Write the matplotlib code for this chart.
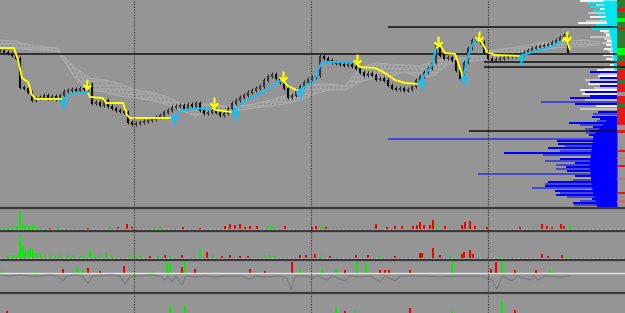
"""Trading terminal screenshot: price + cloud + trend line, volume profile, three sub-panels."""
import numpy as np
import matplotlib
matplotlib.use("Agg")
import matplotlib.pyplot as plt
from matplotlib.lines import Line2D
from matplotlib.path import Path

W, H = 625, 313
BG = "#959595"

# ---- main panel (y in screen pixels from top, x in pixels) ----
closes = [50, 52, 53, 55, 58, 87, 88, 92, 100, 98,
          97, 95, 98, 96, 99, 95, 91, 90, 89, 90,
          88, 89, 84, 103, 102, 105, 100, 106, 108, 110,
          111, 112, 122, 124, 123, 122, 121, 120, 119, 117,
          115, 112, 110, 107, 106, 105, 108, 104, 106, 103,
          110, 113, 112, 110, 112, 115, 113, 108, 103, 100,
          97, 95, 92, 90, 88, 86, 80, 76, 74, 78,
          82, 88, 97, 95, 90, 86, 82, 79, 77, 75,
          56, 58, 60, 62, 63, 64, 65, 64, 66, 68,
          72, 75, 73, 75, 79, 78, 80, 85, 88, 89,
          88, 90, 89, 86, 80, 76, 72, 68, 62, 45,
          55, 58, 57, 60, 70, 78, 62, 48, 40, 38,
          42, 52, 58, 60, 59, 58, 57, 56, 56, 55,
          54, 52, 50, 48, 47, 46, 45, 44, 42, 40,
          37, 35, 52]
bar_step = 4

# trend line segments: direction, x knots, y knots
trend = [
    ("dn", [0, 14, 18, 22, 28, 32, 36, 62], [48, 48, 60, 78, 82, 95, 99, 99]),
    ("up", [62, 68, 75, 88], [99, 96, 93, 93]),
    ("dn", [88, 90, 103, 106, 123, 127, 130, 173], [93, 97, 98, 103, 103, 115, 118, 118]),
    ("up", [173, 180, 190, 212], [118, 111, 109, 108]),
    ("dn", [212, 216, 232], [108, 110, 112]),
    ("up", [232, 240, 250, 262, 272, 282], [112, 105, 98, 93, 86, 80]),
    ("dn", [282, 288, 298], [80, 86, 91]),
    ("up", [298, 306, 314, 318, 322, 355], [91, 86, 81, 70, 62, 62]),
    ("dn", [355, 360, 375, 385, 395, 405, 418], [62, 67, 68, 73, 80, 83, 84]),
    ("up", [418, 424, 432, 436], [84, 76, 65, 48]),
    ("dn", [436, 440, 445, 455, 460, 463], [48, 45, 53, 54, 68, 78]),
    ("up", [463, 467, 472, 478], [78, 60, 45, 38]),
    ("dn", [478, 483, 487, 495, 520], [38, 44, 52, 55, 56]),
    ("up", [520, 535, 550, 562], [56, 51, 47, 41]),
    ("dn", [562, 566, 570], [41, 38, 50]),
]
up_arrows_x = [63, 174, 235, 300, 422, 464, 521]
up_arrows_y = [104, 120, 115, 94, 85, 81, 60]
dn_arrows_x = [87, 214, 283, 357, 438, 479, 567]
dn_arrows_y = [84, 102, 76, 59, 41, 36, 36]

cloud_x = [0, 15, 30, 45, 57, 65, 75, 90, 105, 120, 135, 150, 165, 180, 195, 210,
           225, 240, 255, 270, 285, 300, 315, 330, 345, 360, 375, 390, 405, 420,
           435, 450, 465, 480, 495, 510, 525, 540, 555, 570, 585, 600]
cloud_a = [40, 41, 45, 47, 48, 58, 68, 78, 80, 84, 90, 92, 96, 103, 105, 104,
           106, 106, 104, 100, 96, 86, 84, 84, 86, 68, 63, 64, 65, 66,
           60, 60, 58, 52, 50, 48, 46, 43, 42, 41, 40, 42]
cloud_b = [47, 48, 50, 50, 51, 62, 78, 90, 92, 96, 98, 100, 104, 110, 116, 112,
           110, 110, 108, 106, 104, 100, 94, 90, 90, 82, 78, 76, 72, 78,
           75, 63, 62, 60, 57, 55, 52, 50, 48, 47, 46, 45]

level_y = [27, 54, 62, 67, 131]
level_x0 = [388, 0, 484, 484, 469]
level_x1 = [617, 617, 617, 625, 617]

# volume profile rows: y, left end, colour code
prof_y = [1, 3, 5, 7, 9, 11, 13, 15, 17, 19, 21, 23, 25, 27, 29, 31, 33, 35, 37, 39,
          41, 43, 45, 47, 49, 51, 53, 55, 57, 59, 61, 65, 68, 70, 72, 74, 76, 78, 80, 82,
          84, 86, 88, 90, 92, 94, 96, 98, 100, 102, 104, 106, 109, 112, 114, 117, 119, 121, 123, 125,
          127, 129, 131, 133, 135, 137, 139, 141, 143, 144, 146, 148, 150, 151, 153, 155, 157, 159, 161, 163,
          165, 167, 169, 171, 174, 176, 178, 180, 182, 184, 186, 188, 190, 191, 193, 195, 197, 199, 201, 203,
          205]
prof_x = [580, 587, 596, 590, 600, 593, 588, 598, 590, 600, 586, 578, 596, 590, 592, 600, 604, 606, 590, 604,
          607, 602, 606, 611, 604, 608, 610, 603, 612, 606, 611, 610, 604, 597, 590, 600, 598, 600, 585, 590,
          588, 600, 594, 580, 585, 582, 590, 570, 585, 541, 575, 596, 580, 598, 593, 592, 600, 597, 569, 580,
          593, 585, 590, 586, 589, 600, 388, 557, 600, 558, 565, 548, 600, 560, 504, 543, 560, 560, 545, 575,
          556, 566, 556, 567, 478, 575, 572, 573, 548, 545, 545, 532, 585, 555, 560, 556, 567, 592, 580, 573,
          574]
prof_c = ("wcgcwcgcwcgwcgcwgwgg"
          "wgwgwgwwgwgwgwbgwbgb"
          "wbgwbwbbgsbwgbsbbsbs"
          "bsbsbtsbtbsbtsbstbsb"
          "sbsbsbtsbsbstbsbsbsb"
          "s")
core_cyan_y = [0, 20, 40, 70]
core_cyan_x = [603, 606, 611, 614]
core_blue_y = [118, 127, 135, 165, 190, 207]
core_blue_x = [608, 600, 593, 589, 592, 597]

strip_y0 = [0, 8, 11, 18, 22, 27, 30, 48, 55, 62, 66, 70, 80, 84, 92, 96, 104, 107, 125, 130,
            150, 157, 165, 178, 192, 200]
strip_y1 = [8, 11, 18, 22, 27, 30, 48, 55, 62, 66, 70, 80, 84, 92, 96, 104, 107, 125, 130, 133,
            152, 159, 167, 180, 194, 203]
strip_c = "drdldrdldr" + "drdrardrar" + "rprprp"

# ---- sub panels (x pixels, heights pixels) ----
v1_x = [2, 6, 10, 14, 17, 20, 23, 26, 29, 32, 35, 40, 50, 58, 88, 110, 118, 127, 132, 155,
        160, 183, 200, 225, 230, 235, 240, 245, 250, 257, 268, 272, 285, 312, 316, 322, 326, 376, 387, 395,
        402, 413, 417, 420, 424, 430, 433, 436, 445, 462, 465, 470, 475, 487, 520, 542, 547, 552, 561, 564,
        570]
v1_h = [1, 1, 1, 1, 3, 18, 3, 3, 3, 3, 3, 2, 1, 2, 1, 2, 2, 5, 2, 2,
        2, 2, 1, 3, 5, 4, 5, 2, 3, 3, 3, 3, 3, 2, 3, 3, 2, 5, 2, 3,
        3, 3, 4, 7, 4, 4, 9, 3, 3, 4, 7, 8, 3, 2, 2, 5, 3, 2, 5, 3,
        3]
v1_c = "gggggggggggg" + "rgr" + "g" + "rrr" + "gg" + "rr" + "rrrrrrr" + "gg" + "rr" + "rgr" + \
       "rrrrrrrrrr" + "g" + "r" + "rrrr" + "r" + "r" + "rrrrr" + "g"

v2_x = [8, 12, 15, 18, 20, 21, 23, 25, 28, 30, 33, 36, 40, 45, 50, 55, 60, 68, 73, 80,
        85, 90, 95, 100, 106, 112, 130, 135, 140, 150, 158, 165, 170, 182, 200, 207, 213, 222, 230, 240,
        248, 265, 270, 275, 300, 306, 315, 322, 330, 356, 368, 380, 395, 420, 422, 433, 440, 450, 462, 464,
        470, 473, 500, 542, 548, 562, 568]
v2_h = [3, 3, 3, 4, 23, 13, 12, 6, 7, 10, 9, 5, 5, 3, 3, 2, 3, 3, 3, 2,
        2, 8, 2, 3, 5, 3, 3, 2, 2, 2, 2, 3, 2, 3, 9, 6, 3, 2, 3, 2,
        2, 3, 3, 2, 3, 3, 4, 3, 2, 3, 3, 2, 2, 5, 5, 10, 3, 2, 4, 6,
        8, 4, 2, 4, 2, 3, 2]
v2_c = "g" * 29 + "rgrg" + "rgrg" + "rrrr" + "ggg" + "rrr" + "g" + "rrr" + "g" + "rrrrr" + "g" + \
       "rrrr" + "g" + "rrr" + "g"

osc_x = [0, 10, 20, 30, 40, 50, 58, 63, 67, 75, 82, 88, 93, 100, 110, 120, 125, 130, 140, 150,
         160, 165, 168, 172, 176, 182, 186, 195, 205, 215, 225, 240, 250, 255, 265, 280, 287, 291, 295, 305,
         312, 318, 327, 332, 345, 350, 360, 370, 380, 385, 395, 400, 420, 440, 460, 480, 491, 497, 502, 512,
         517, 530, 534, 538, 545, 560, 570]
osc_v = [-2, -3, -2, -3, -3, -2, -3, -8, -3, -2, -3, -10, -3, -3, -2, -3, -11, -3, -3, -2,
         -3, -7, -3, -9, -3, -12, -3, -4, -3, -4, -3, -3, -6, -3, -4, -3, -5, -17, -3, -3,
         -5, -3, -7, -3, -8, -3, -4, -3, -9, -3, -8, -3, -3, -4, -3, -3, -6, -16, -3, -8,
         -3, -7, -3, -7, -3, -4, -3]
oscb_x = [2, 35, 63, 77, 83, 88, 100, 124, 132, 153, 167, 170, 182, 185, 195, 250, 265, 292, 300, 322,
          336, 345, 357, 366, 380, 385, 389, 410, 452, 491, 496, 502, 515, 536, 550]
oscb_h = [2, 1, 4, 5, 3, 5, 2, 7, 2, 2, 11, 10, 6, 11, 4, 4, 2, 11, 4, 4,
          3, 3, 12, 10, 3, 3, 3, 3, 12, 4, 11, 11, 3, 3, 3]
oscb_c = "ggrgg" "rrrgg" "ggrgr" "rrrgg" "grggr" "rrrgr" "rgrrg"

v4_x = [7, 170, 185, 336, 345, 355, 410, 452, 502, 515]
v4_h = [2, 7, 7, 6, 2, 2, 5, 2, 12, 3]
v4_c = "rgggrgrggr"

vlines_x = [134, 311, 488]
separators_y = [207.5, 230.5, 259.5, 292.5]

COL = {"g": "#00f000", "r": "#f00000"}
PCOL = {"w": "#f2f2f2", "g": "#c6c6c6", "c": "#00e5f0", "b": "#0000ff",
        "s": "#4646d4", "t": "#b8aa78", "k": "#000000"}
SCOL = {"d": "#2f7d2f", "l": "#00ff00", "r": "#e41818", "a": "#959595", "p": "#c87070"}
YEL, CYA = "#ffff00", "#16bff5"

M, L = Path.MOVETO, Path.LINETO
DN_ARROW = Path([(0, 1), (0, -1), (-0.8, -0.15), (0, -1), (0.8, -0.15)], [M, L, M, L, L])
UP_ARROW = Path([(0, -1), (0, 1), (-0.8, 0.15), (0, 1), (0.8, 0.15)], [M, L, M, L, L])

plt.rcParams["hatch.linewidth"] = 0.8
fig = plt.figure(figsize=(W / 100, H / 100), dpi=100, facecolor=BG)


def band(top, bottom):
    ax = fig.add_axes([0, 1 - bottom / H, 1, (bottom - top) / H])
    ax.set_xlim(0, W)
    ax.axis("off")
    return ax


# main
ax = band(0, 207)
ax.set_ylim(207, 0)
ax.fill_between(cloud_x, cloud_a, cloud_b, facecolor="#a4a4a4", hatch="....",
                edgecolor="#8c8c8c", lw=0)
ax.plot(cloud_x, cloud_a, color="#acacac", lw=0.8)
ax.plot(cloud_x, cloud_b, color="#acacac", lw=0.8)
ax.hlines(level_y, level_x0, level_x1, color="#111111", lw=1.1)

xs = np.arange(len(closes)) * bar_step
opens = [closes[0]] + closes[:-1]
for x, o, c in zip(xs, opens, closes):
    lo, hi = min(o, c), max(o, c)
    ax.vlines(x, lo - 2, hi + 2, color="#1e1e1e", lw=0.7)
    ax.vlines(x, lo - 0.5, hi + 0.5, color="#101010" if c > o else "#3a3a3a", lw=1.6)

for d, tx, ty in trend:
    ax.plot(tx, ty, color=YEL if d == "dn" else CYA, lw=1.4, solid_capstyle="butt")
ax.plot(up_arrows_x, up_arrows_y, ls="none", marker=UP_ARROW, ms=7, mfc="none",
        mec=CYA, mew=1.6)
ax.plot(dn_arrows_x, dn_arrows_y, ls="none", marker=DN_ARROW, ms=7, mfc="none",
        mec=YEL, mew=1.6)

prof_w = [617 - x for x in prof_x]
ax.barh(prof_y, prof_w, left=prof_x, height=1.6, color=[PCOL[c] for c in prof_c], lw=0)
ax.fill_betweenx(core_cyan_y, core_cyan_x, 617, color=PCOL["c"], lw=0)
ax.fill_betweenx(core_blue_y, core_blue_x, 617, color=PCOL["b"], lw=0)
ax.barh([(a + b) / 2 for a, b in zip(strip_y0, strip_y1)],
        8, left=617, height=[b - a for a, b in zip(strip_y0, strip_y1)],
        color=[SCOL[c] for c in strip_c], lw=0)

# sub panel 1
a1 = band(208.5, 230)
a1.set_ylim(-1.5, 20)
a1.axhline(0, color="#b4b4b4", lw=1, ls=(0, (2, 1)))
a1.bar(v1_x, v1_h, width=1.8, color=[COL[c] for c in v1_c], lw=0)

# sub panel 2
a2 = band(231.5, 259)
a2.set_ylim(-1.5, 26)
a2.axhline(0, color="#b4b4b4", lw=1, ls=(0, (2, 1)))
a2.bar(v2_x, v2_h, width=1.8, color=[COL[c] for c in v2_c], lw=0)

# sub panel 3: oscillator around zero
a3 = band(260.5, 292)
a3.set_ylim(-19, 12.5)
a3.axhline(0, color="#e8e8e8", lw=1)
a3.plot(osc_x, osc_v, color="#7a7a7a", lw=0.8)
a3.bar(oscb_x, oscb_h, width=1.8, color=[COL[c] for c in oscb_c], lw=0)

# sub panel 4
a4 = band(293.5, 313)
a4.set_ylim(0, 19.5)
a4.bar(v4_x, v4_h, width=1.8, color=[COL[c] for c in v4_c], lw=0)

for y in separators_y:
    fig.add_artist(Line2D([0, 1], [1 - y / H] * 2, transform=fig.transFigure,
                          color="#3a3a3a", lw=1.6))
for x in vlines_x:
    fig.add_artist(Line2D([x / W] * 2, [0, 1], transform=fig.transFigure,
                          color="#2c2c2c", lw=0.8, ls=(0, (1, 1.5))))

fig.savefig("out.png", dpi=100, facecolor=BG)
